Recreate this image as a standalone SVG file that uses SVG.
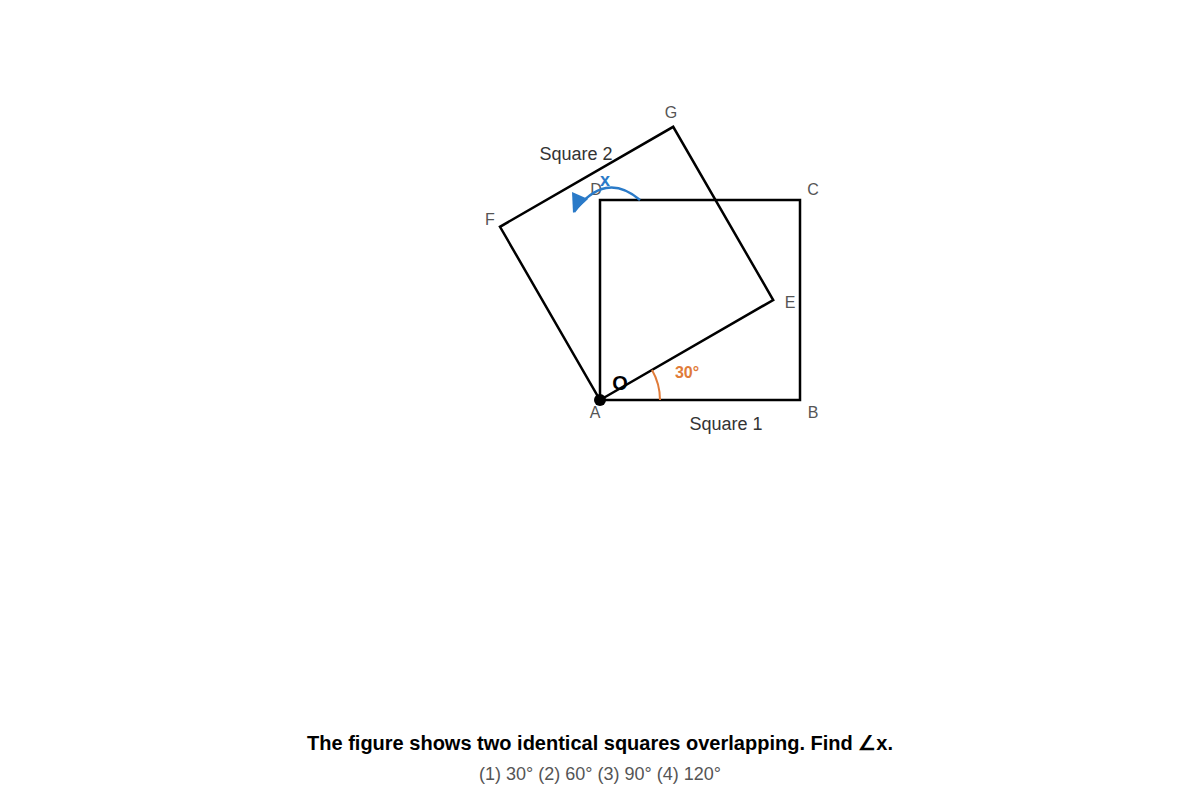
<svg xmlns="http://www.w3.org/2000/svg" width="1200" height="800" viewBox="0 0 1200 800">
<style>
.sq{fill:none;stroke:#000;stroke-width:2.5;stroke-linejoin:miter}
.pt{font-family:"Liberation Sans",Arial,sans-serif;font-size:16px;fill:#555;text-anchor:middle}
.nm{font-family:"Liberation Sans",Arial,sans-serif;font-size:18px;fill:#333;text-anchor:middle}
</style>
<rect width="1200" height="800" fill="#fff"/>
<g id="square1">
<polygon class="sq" points="600,400 800,400 800,200 600,200"/>
<text class="nm" x="726" y="430">Square 1</text>
</g>
<g id="square2">
<polygon class="sq" points="600,400 773.2,300 673.2,126.8 500,226.8"/>
<text class="nm" x="576" y="160">Square 2</text>
</g>
<g id="labels">
<text class="pt" x="595" y="418">A</text>
<text class="pt" x="813" y="418">B</text>
<text class="pt" x="813" y="195">C</text>
<text class="pt" x="596" y="195">D</text>
<text class="pt" x="790" y="308">E</text>
<text class="pt" x="490" y="225">F</text>
<text class="pt" x="671" y="118">G</text>
</g>
<g id="pointO">
<circle cx="600" cy="400" r="6" fill="#000"/>
<text x="620" y="390" font-family="'Liberation Sans',Arial,sans-serif" font-size="20" font-weight="bold" fill="#000" text-anchor="middle">O</text>
</g>
<g id="angle30">
<path d="M660,400 A60,60 0 0 0 652,370" fill="none" stroke="#e07b39" stroke-width="2"/>
<text x="687" y="378" font-family="'Liberation Sans',Arial,sans-serif" font-size="16" font-weight="bold" fill="#e07b39" text-anchor="middle">30°</text>
</g>
<g id="angleX">
<path d="M640,200 Q605,170 574,212" fill="none" stroke="#2a7ac8" stroke-width="2.5"/>
<polygon points="572,192 588,199 573,213" fill="#2a7ac8"/>
<text x="605" y="186" font-family="'Liberation Sans',Arial,sans-serif" font-size="18" font-weight="bold" fill="#2a7ac8" text-anchor="middle">x</text>
</g>
<g id="caption">
<text x="600" y="750" font-family="'Liberation Sans',Arial,sans-serif" font-size="20" font-weight="bold" fill="#000" text-anchor="middle">The figure shows two identical squares overlapping. Find ∠x.</text>
<text x="600" y="780" font-family="'Liberation Sans',Arial,sans-serif" font-size="18" fill="#555" text-anchor="middle">(1) 30° (2) 60° (3) 90° (4) 120°</text>
</g>
</svg>
